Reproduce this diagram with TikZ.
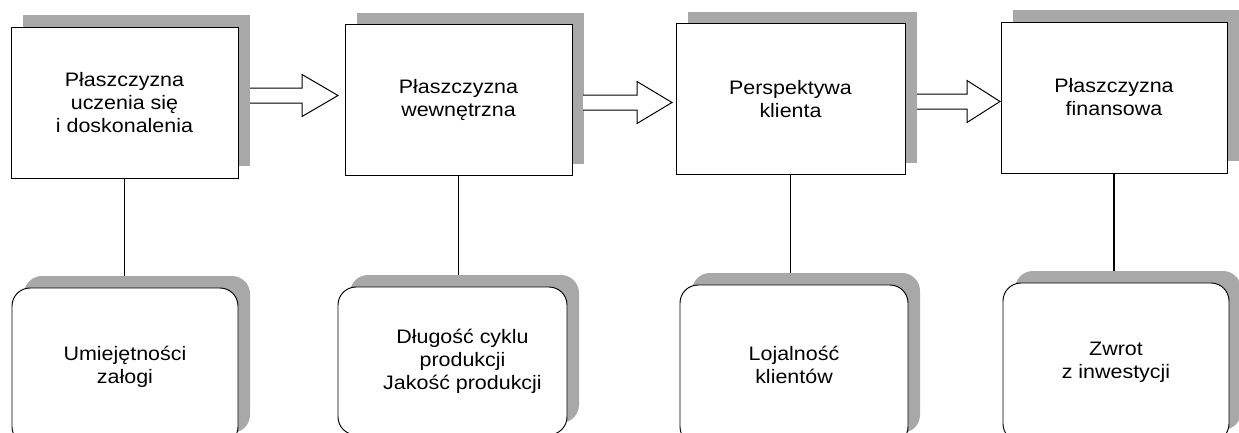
\documentclass[tikz,border=0pt]{standalone}
\usepackage{fontspec}
\setmainfont{Liberation Sans}[FakeStretch=1.1]
\usetikzlibrary{shadows,calc}
\definecolor{shade}{gray}{0.66}
\tikzset{
  box/.style={draw=black, line width=0.95pt, fill=white, inner sep=0pt,
    align=center, font=\fontsize{19.5}{23}\selectfont,
    general shadow={shadow xshift=12pt, shadow yshift=12pt, fill=shade, draw=none}},
  topbox/.style={box, minimum width=227pt, minimum height=151pt},
  botbox/.style={box, rounded corners=18pt},
  conn/.style={draw=black, line width=1.8pt},
  blockarr/.style={draw=black, line width=1pt, fill=white, line join=miter}
}
\newcommand\blockarrow[3]{%
  \draw[blockarr] ($(#1)+(0,-7.5)$) -- ($(#2)+(-#3,-7.5)$) -- ($(#2)+(-#3,-21)$)
    -- (#2) -- ($(#2)+(-#3,21)$) -- ($(#2)+(-#3,7.5)$) -- ($(#1)+(0,7.5)$);}
\begin{document}
\begin{tikzpicture}[x=1pt,y=-1pt]
\useasboundingbox (0,0) rectangle (1239,432);
\clip (0,0) rectangle (1239,432);

% top boxes
\node[topbox] (b1) at (124.5,102.5) {Płaszczyzna\\uczenia się\\i doskonalenia};
\node[topbox] (b2) at (458.5,100) {Płaszczyzna\\wewnętrzna};
\node[topbox, minimum width=229pt] (b3) at (790.5,99) {Perspektywa\\klienta};
\node[topbox, minimum width=226pt] (b4) at (1114,97.5) {Płaszczyzna\\finansowa};

% bottom boxes
\node[botbox, minimum width=226pt, minimum height=156.8pt] (c1) at (125,366.4) {Umiejętności\\załogi};
\node[botbox, minimum width=229pt, minimum height=147.8pt] (c2) at (452.5,360.9)
  {\hspace*{20pt}Długość cyklu\\\hspace*{20pt}produkcji\\\hspace*{20pt}Jakość produkcji};
\node[botbox, minimum width=228pt, minimum height=159.8pt] (c3) at (794,364.9) {Lojalność\\klientów};
\node[botbox, minimum width=226pt, minimum height=158.8pt] (c4) at (1116,362.4) {Zwrot\\z inwestycji};

% vertical connectors
\foreach \i in {1,2,3,4}{
  \draw[conn] (b\i.south) -- ($(b\i.south |- c\i.north)+(0,-12)$);
}

% block arrows
\coordinate (a1s) at (250,95.5);  \coordinate (a1t) at (338,95.5);
\coordinate (a2s) at (583,102.5); \coordinate (a2t) at (672,102.5);
\coordinate (a3s) at (917,101.5); \coordinate (a3t) at (1000,101.5);
\blockarrow{a1s}{a1t}{36}
\blockarrow{a2s}{a2t}{35}
\blockarrow{a3s}{a3t}{33}
\end{tikzpicture}
\end{document}
